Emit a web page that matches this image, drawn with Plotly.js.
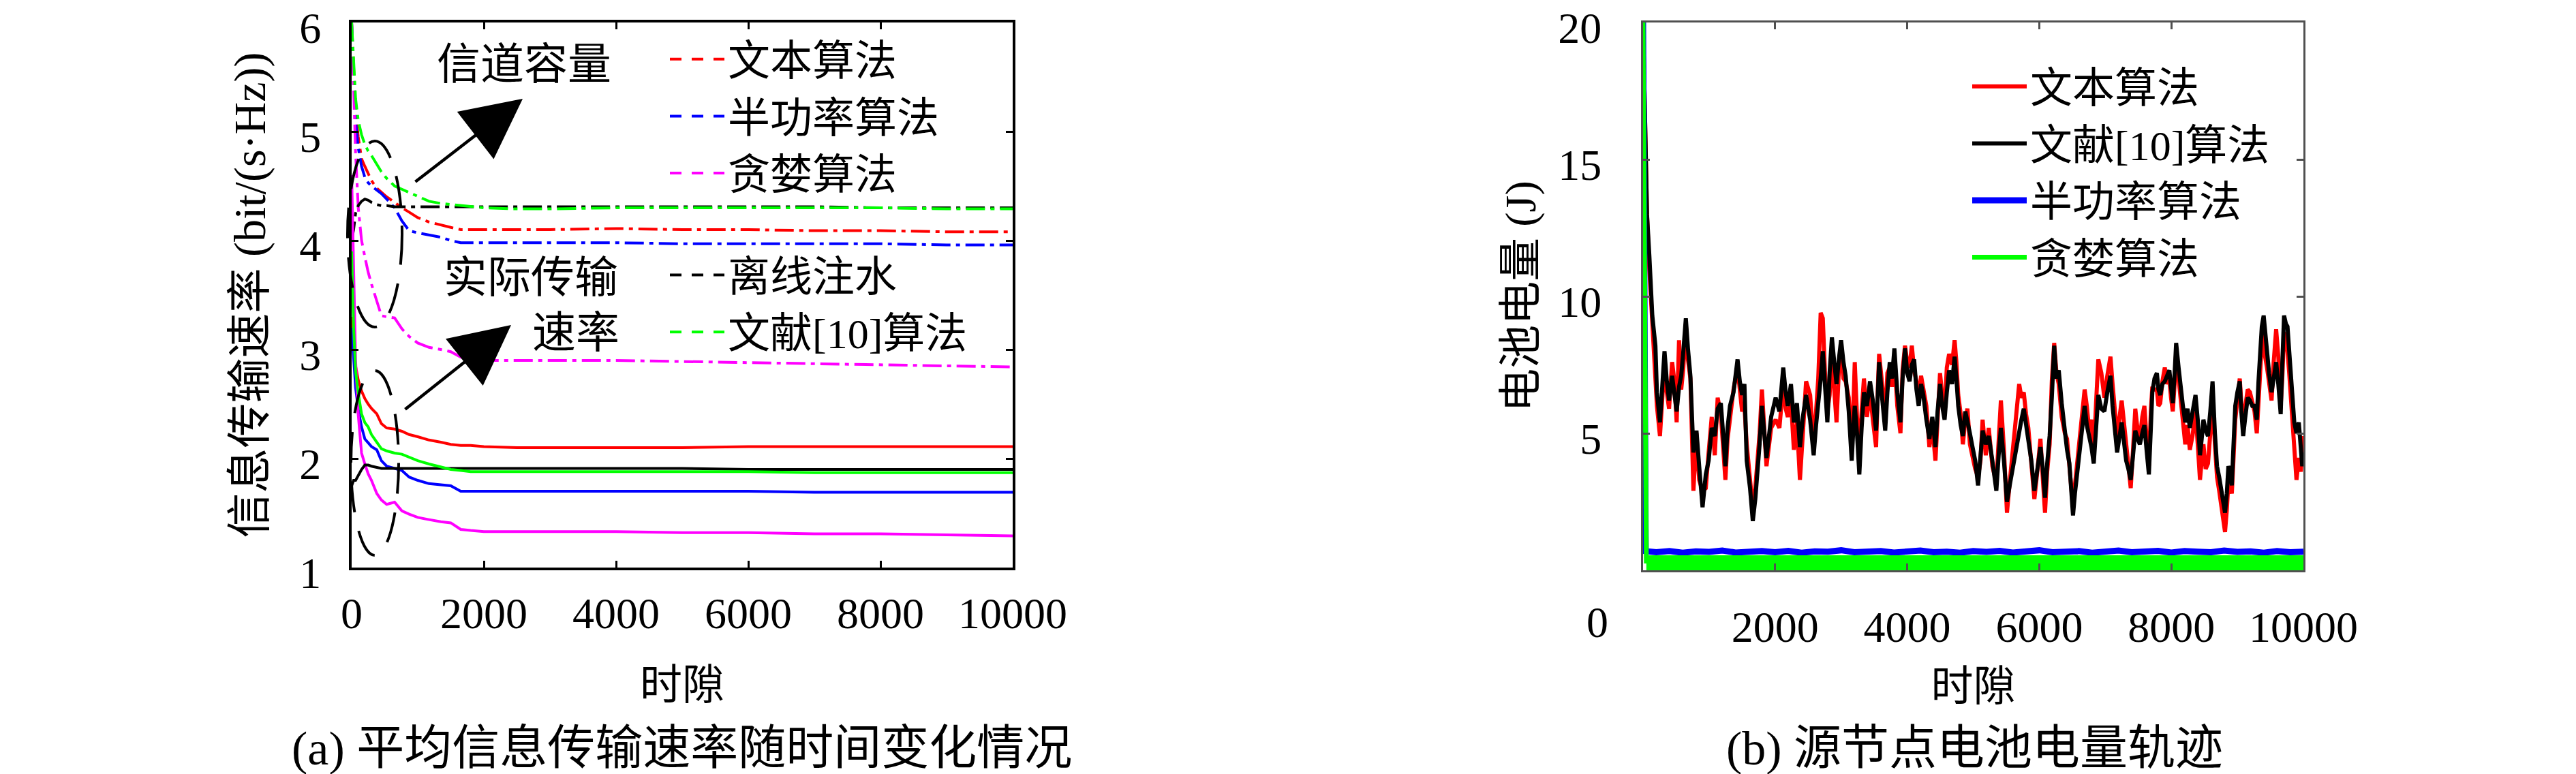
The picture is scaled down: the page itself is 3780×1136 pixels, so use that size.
<!DOCTYPE html>
<html><head><meta charset="utf-8">
<script src="https://cdn.plot.ly/plotly-3.0.1.min.js"></script>
<style>html,body{margin:0;padding:0;background:#fff}#chart{width:3780px;height:1136px}</style>
</head><body><div id="chart"></div>
<script>
// ---------------- (a) average information transmission rate ----------------
const slotsRate = [0,30,60,100,150,200,250,300,380,450,530,650,760,870,1000,1170,1350,1500,1650,1800,2000,2500,3000,4000,5000,6000,7000,8000,9000,10000];
// channel capacity (dash-dot)
const capProposed = [6.0,5.6,5.2,4.95,4.75,4.68,4.62,4.55,4.48,4.44,4.40,4.35,4.30,4.26,4.21,4.17,4.14,4.12,4.10,4.10,4.10,4.10,4.10,4.11,4.10,4.10,4.09,4.09,4.08,4.08];
const capHalf     = [6.0,5.5,5.1,4.85,4.68,4.58,4.53,4.50,4.46,4.43,4.38,4.30,4.18,4.09,4.07,4.05,4.03,4.00,3.98,3.98,3.98,3.98,3.98,3.98,3.97,3.97,3.97,3.97,3.96,3.96];
const capGreedy   = [6.0,5.4,4.8,4.3,4.0,3.85,3.71,3.60,3.44,3.31,3.30,3.29,3.19,3.12,3.06,3.02,3.00,2.98,2.93,2.91,2.90,2.90,2.90,2.90,2.89,2.88,2.87,2.86,2.85,2.84];
const capOffline  = [4.0,4.1,4.25,4.32,4.36,4.38,4.37,4.35,4.33,4.32,4.32,4.31,4.31,4.31,4.31,4.31,4.31,4.31,4.31,4.31,4.31,4.31,4.31,4.31,4.31,4.31,4.31,4.30,4.30,4.30];
const capRef10    = [6.0,5.6,5.3,5.1,4.97,4.88,4.82,4.78,4.70,4.63,4.57,4.50,4.47,4.44,4.40,4.36,4.34,4.33,4.32,4.31,4.30,4.29,4.29,4.30,4.30,4.30,4.30,4.30,4.29,4.29];
// actual transmission rate (solid)
const rateProposed = [3.3,3.0,2.85,2.72,2.62,2.55,2.50,2.46,2.41,2.32,2.28,2.27,2.25,2.22,2.20,2.17,2.15,2.13,2.12,2.12,2.11,2.10,2.10,2.10,2.10,2.11,2.11,2.11,2.11,2.11];
const rateHalf     = [3.2,2.9,2.65,2.45,2.29,2.18,2.14,2.11,2.08,1.98,1.93,1.91,1.89,1.83,1.80,1.77,1.76,1.75,1.70,1.70,1.70,1.70,1.70,1.70,1.70,1.70,1.69,1.69,1.69,1.69];
const rateGreedy   = [4.6,3.6,2.9,2.4,2.05,1.95,1.86,1.80,1.68,1.62,1.58,1.60,1.52,1.49,1.46,1.44,1.42,1.41,1.35,1.34,1.33,1.33,1.33,1.33,1.32,1.32,1.31,1.31,1.30,1.29];
const rateOffline  = [1.75,1.80,1.80,1.85,1.90,1.94,1.94,1.93,1.92,1.91,1.91,1.91,1.91,1.91,1.91,1.91,1.91,1.91,1.91,1.91,1.91,1.91,1.91,1.91,1.91,1.90,1.90,1.90,1.90,1.90];
const rateRef10    = [3.9,3.2,2.8,2.6,2.41,2.33,2.29,2.22,2.15,2.09,2.07,2.05,2.04,2.01,1.98,1.95,1.92,1.90,1.89,1.88,1.88,1.88,1.88,1.88,1.88,1.88,1.87,1.87,1.87,1.87];
const namesA = ['文本算法','半功率算法','贪婪算法','离线注水','文献[10]算法'];
const rateTickVals = [1,2,3,4,5,6];
const rateTickText = ['1','2','3','4','5','6'];
const slotTickVals = [0,2000,4000,6000,8000,10000];
const slotTickText = ['0','2000','4000','6000','8000','10000'];

// ---------------- (b) source node battery energy ----------------
const slotsBattery = [
0,30,60,95,140,187,210,256,290,325,
360,394,440,475,509,545,578,610,648,680,
717,763,809,850,901,950,993,1040,1086,1130,
1178,1215,1247,1280,1316,1370,1431,1465,1500,1535,
1570,1620,1662,1700,1731,1765,1800,1835,1869,1940,
2008,2065,2123,2160,2192,2240,2284,2330,2376,2420,
2469,2530,2584,2620,2653,2690,2722,2755,2791,2825,
2860,2895,2930,2965,2999,3035,3068,3115,3160,3185,
3206,3240,3275,3310,3345,3390,3437,3480,3529,3555,
3575,3620,3667,3700,3736,3770,3806,3850,3898,3930,
3967,4000,4036,4070,4105,4140,4174,4210,4244,4290,
4336,4380,4428,4460,4497,4530,4566,4600,4635,4680,
4718,4745,4773,4810,4843,4880,4912,4950,4981,5030,
5073,5110,5142,5190,5235,5290,5350,5385,5419,5465,
5511,5560,5603,5650,5696,5730,5765,5800,5834,5880,
5926,5970,6018,6050,6087,6120,6157,6190,6226,6260,
6295,6340,6387,6420,6456,6480,6511,6540,6571,6630,
6687,6720,6756,6790,6825,6860,6894,6940,6986,7030,
7078,7110,7179,7248,7280,7316,7350,7385,7420,7454,
7490,7523,7560,7592,7625,7660,7690,7712,7745,7781,
7805,7832,7865,7901,7935,7970,7995,8022,8050,8073,
8110,8142,8175,8211,8245,8280,8320,8366,8400,8434,
8460,8486,8520,8555,8590,8624,8660,8692,8725,8761,
8790,8813,8840,8864,8890,8916,8940,8968,9000,9036,
9060,9088,9120,9157,9190,9226,9260,9294,9320,9346,
9370,9398,9420,9449,9480,9518,9550,9587,9620,9656,
9680,9707,9735,9759,9785,9810,9835,9862,9895,9930,
9960,9982,10000];
const batteryProposed = [
20,15.5,13,11,9.0,7.5,6.0,4.9,6.2,7.6,
6.5,5.9,7.6,6.9,5.4,8.4,6.6,7.4,9.0,7.7,
7.0,2.9,5.0,3.3,2.9,3.0,4.3,5.6,4.2,6.3,
5.7,4.6,3.3,4.8,5.5,6.6,7.4,6.5,5.8,6.0,
4.6,3.3,2.3,3.0,3.8,5.0,6.6,4.8,3.8,5.2,
5.5,5.2,6.8,5.9,5.6,6.2,4.4,5.4,3.3,5.0,
6.9,6.4,4.6,5.8,7.0,9.4,9.2,7.2,5.8,6.4,
8.0,6.6,5.4,7.3,7.9,7.0,6.9,6.3,4.6,6.0,
7.6,5.6,4.2,5.8,7.0,5.6,6.5,5.5,4.5,6.6,
7.9,6.8,5.6,7.2,7.4,6.7,7.8,6.0,5.0,7.3,
8.2,7.6,7.4,8.2,7.3,6.9,6.2,7.1,6.6,6.0,
4.5,5.3,4.0,5.6,7.2,6.4,5.8,7.4,7.9,7.5,
8.4,7.6,6.4,5.7,4.6,5.5,5.9,4.6,4.2,3.7,
3.4,4.0,5.5,4.2,5.2,3.8,3.2,4.6,6.2,4.4,
2.1,3.4,4.4,5.7,6.8,6.3,6.5,5.7,5.2,3.9,
2.6,3.6,4.8,3.5,2.1,3.6,4.6,6.9,8.3,7.2,
6.8,5.6,5.0,4.8,3.7,3.3,2.3,3.1,3.9,5.4,
6.6,6.0,5.1,5.5,4.2,6.1,7.7,7.2,6.3,7.1,
7.8,6.8,4.9,6.2,5.4,4.6,3.6,3.0,4.4,5.9,
5.1,4.8,5.6,6.0,4.8,3.8,5.8,6.7,6.6,6.6,
6.0,6.1,6.9,7.4,6.8,7.0,6.3,5.8,6.8,8.0,
7.0,6.2,5.6,4.6,5.3,4.4,4.9,5.8,4.6,3.3,
4.0,4.6,3.7,3.9,5.0,6.4,4.6,3.4,2.9,2.3,
1.8,1.4,2.2,3.2,3.2,2.8,4.0,5.5,6.2,7.0,
6.1,5.4,6.0,6.6,6.5,6.2,5.8,5.0,6.4,7.8,
8.3,8.6,7.8,7.4,6.8,6.2,7.6,8.8,7.8,6.0,
7.0,8.7,8.2,8.0,7.2,6.3,5.4,4.9,3.3,4.1,
3.6,4.4,4.9];
const batteryRef10 = [
20,15.5,13,11.5,9.3,8.2,6.5,5.4,6.6,8.0,
6.9,6.2,7.1,6.3,5.8,6.7,7.1,8.0,9.2,8.1,
7.1,4.3,5.1,3.8,2.3,3.5,4.0,5.2,4.9,5.9,
6.1,4.9,3.8,5.2,6.0,6.5,7.7,6.9,6.4,6.8,
4.0,3.0,1.8,2.6,3.5,4.6,6.0,5.0,4.1,5.6,
6.3,5.8,7.4,6.5,6.0,6.8,5.4,6.1,4.5,5.6,
6.4,5.5,4.2,5.3,6.0,7.0,8.0,6.8,5.4,7.2,
8.5,7.6,6.8,7.7,8.4,7.6,7.1,5.8,4.0,5.2,
6.0,5.0,3.5,5.2,6.5,6.0,6.9,6.2,5.1,6.4,
7.6,6.3,5.1,6.5,7.6,7.0,8.1,6.5,5.4,7.0,
8.1,7.2,6.9,7.5,7.7,6.6,6.0,6.8,6.4,5.5,
4.8,5.6,4.5,5.8,6.8,6.0,5.5,6.5,7.3,6.8,
7.8,7.0,6.0,5.3,4.9,5.8,5.5,5.0,4.6,4.0,
3.1,4.3,5.1,4.6,4.9,4.0,2.9,4.2,5.2,4.0,
2.5,3.2,3.8,4.6,5.1,5.5,5.9,5.3,4.9,4.0,
2.9,3.8,4.5,3.8,2.65,3.9,4.9,6.3,8.2,7.0,
7.3,6.1,4.9,4.4,3.9,3.0,2.0,2.8,3.5,4.8,
6.0,5.3,4.9,4.5,3.9,5.2,6.4,5.9,5.8,6.5,
7.1,6.0,4.3,5.4,4.8,4.0,3.7,3.3,4.2,5.1,
4.8,4.6,5.0,5.3,4.4,3.5,5.2,6.5,7.0,7.2,
6.6,6.4,6.8,6.9,7.1,7.3,6.7,6.1,7.2,8.3,
7.4,6.6,6.0,5.4,5.9,5.2,5.7,6.4,5.5,4.2,
4.8,5.5,5.1,4.9,5.8,6.9,5.0,3.8,3.4,2.9,
2.4,2.1,2.8,3.8,3.6,3.1,4.5,6.0,6.5,6.9,
5.8,4.9,5.6,6.3,6.2,6.0,6.0,5.5,6.9,8.4,
8.9,9.3,8.6,8.0,7.2,6.5,7.0,7.6,6.8,5.7,
7.5,9.3,9.0,8.9,8.0,7.1,6.2,5.4,5.0,5.4,
4.5,3.8,4.3];
const slotsHalfBattery = [0,40,200,400,600,800,1000,1200,1400,1600,1800,2000,2200,2400,2600,2800,3000,3200,3400,3600,3800,4000,4200,4400,4600,4800,5000,5200,5400,5600,5800,6000,6200,6400,6600,6800,7000,7200,7400,7600,7800,8000,8200,8400,8600,8800,9000,9200,9400,9600,9800,10000];
const batteryHalf = [20,0.70,
0.66,0.70,0.64,0.69,0.67,0.72,0.65,0.68,0.70,0.66,
0.71,0.64,0.69,0.68,0.73,0.66,0.67,0.70,0.65,0.69,
0.72,0.66,0.68,0.64,0.70,0.67,0.71,0.65,0.69,0.73,
0.66,0.68,0.70,0.64,0.69,0.72,0.66,0.67,0.71,0.65,
0.70,0.68,0.66,0.72,0.67,0.69,0.64,0.70,0.66,0.68];
const slotsGreedyBattery = [0,50,2000,4000,6000,8000,10000];
const batteryGreedy = [20,0.25,0.25,0.25,0.25,0.25,0.25];
const namesB = ['文本算法','文献[10]算法','半功率算法','贪婪算法'];
const energyTickVals = [5,10,15,20];
const energyTickText = ['5','10','15','20'];
const slotTickValsB = [2000,4000,6000,8000,10000];
const slotTickTextB = ['2000','4000','6000','8000','10000'];

// ---------------- rendering ----------------
const W = 3780, H = 1136;
const px = v => v / W, py = v => 1 - v / H;
const FONT = '"Liberation Serif", "Noto Sans CJK SC", serif';
const RED = '#ff0000', BLUE = '#0000ff', MAG = '#ff00ff', BLK = '#000000', GRN = '#00ff00';
const capDash = '28px,8px,6px,8px';
const legDash = '17px,15px';

const traces = [];
[[capProposed,RED],[capHalf,BLUE],[capGreedy,MAG],[capOffline,BLK],[capRef10,GRN]].forEach(([ys,c]) => {
  traces.push({x: slotsRate, y: ys, type:'scatter', mode:'lines', xaxis:'x', yaxis:'y', showlegend:false,
    line:{color:c, width:4, dash:capDash}, hoverinfo:'skip'});
});
[[rateProposed,RED],[rateHalf,BLUE],[rateGreedy,MAG],[rateOffline,BLK],[rateRef10,GRN]].forEach(([ys,c]) => {
  traces.push({x: slotsRate, y: ys, type:'scatter', mode:'lines', xaxis:'x', yaxis:'y', showlegend:false,
    line:{color:c, width:4}, hoverinfo:'skip'});
});
const legColorsA = [RED, BLUE, MAG, BLK, GRN];
namesA.forEach((n,i) => {
  traces.push({x:[null], y:[null], type:'scatter', mode:'lines', xaxis:'x', yaxis:'y', name:n,
    legend:'legend', legendgroup: i < 3 ? 'g1' : 'g2', line:{color:legColorsA[i], width:4, dash:legDash}});
});
traces.push({x: slotsBattery, y: batteryProposed, type:'scatter', mode:'lines', xaxis:'x2', yaxis:'y2',
  name:namesB[0], legend:'legend2', line:{color:RED, width:6}});
traces.push({x: slotsBattery, y: batteryRef10, type:'scatter', mode:'lines', xaxis:'x2', yaxis:'y2',
  name:namesB[1], legend:'legend2', line:{color:BLK, width:6}});
traces.push({x: slotsHalfBattery, y: batteryHalf, type:'scatter', mode:'lines', xaxis:'x2', yaxis:'y2',
  name:namesB[2], legend:'legend2', line:{color:BLUE, width:9}});
traces.push({x: slotsGreedyBattery.slice(0,2), y: batteryGreedy.slice(0,2), type:'scatter', mode:'lines', xaxis:'x2', yaxis:'y2',
  name:namesB[3], legend:'legend2', line:{color:GRN, width:7}});
traces.push({x: slotsGreedyBattery.slice(1), y: batteryGreedy.slice(1), type:'scatter', mode:'lines', xaxis:'x2', yaxis:'y2',
  showlegend:false, line:{color:GRN, width:24}});

const axisBase = (color, lw) => ({
  showline:true, mirror:'ticks', linecolor:color, linewidth:lw, ticks:'inside', ticklen:10, tickwidth:3,
  tickcolor:color, showgrid:false, zeroline:false, tickfont:{family:FONT, size:64, color:'#000'},
  tickmode:'array', fixedrange:true, ticklabeloverflow:'allow'
});

const ann = (text, x, y, size, extra) => Object.assign({text, x:px(x), y:py(y), xref:'paper', yref:'paper',
  xanchor:'center', yanchor:'middle', showarrow:false, font:{family:FONT, size, color:'#000'}}, extra || {});

const layout = {
  width: W, height: H, margin:{l:0,r:0,t:0,b:0}, paper_bgcolor:'#fff', plot_bgcolor:'#fff',
  font:{family:FONT, color:'#000'},
  xaxis: Object.assign(axisBase('#000',4), {domain:[px(516), px(1486)], range:[0,10000], anchor:'y',
    tickvals: slotTickVals, ticktext: slotTickText, ticklabelstandoff: 8,
    title:{text:'时隙', font:{family:FONT, size:62}, standoff:50}}),
  yaxis: Object.assign(axisBase('#000',4), {domain:[py(833), py(33)], range:[1,6], anchor:'x',
    tickvals: rateTickVals, ticktext: rateTickText, ticklabelstandoff: 28, ticklabelshift: 8,
    title:{text:'信息传输速率 (bit/(s·Hz))', font:{family:FONT, size:66}, standoff:29}}),
  xaxis2: Object.assign(axisBase('#505050',3), {domain:[px(2411), px(3380)], range:[0,10000], anchor:'y2',
    tickvals: slotTickValsB, ticktext: slotTickTextB, ticklabelstandoff: 25,
    title:{text:'时隙', font:{family:FONT, size:62}, standoff:31}}),
  yaxis2: Object.assign(axisBase('#505050',3), {domain:[py(837), py(33)], range:[0,20], anchor:'x2',
    tickvals: energyTickVals, ticktext: energyTickText, ticklabelstandoff: 45, ticklabelshift: 8,
    title:{text:'电池电量 (J)', font:{family:FONT, size:64}, standoff:12}}),
  legend: {x: px(978), y: py(40), xanchor:'left', yanchor:'top', bgcolor:'rgba(0,0,0,0)', borderwidth:0,
    font:{family:FONT, size:62, color:'#000'}, traceorder:'grouped', tracegroupgap:66, itemwidth:80},
  legend2: {x: px(2889), y: py(80), xanchor:'left', yanchor:'top', bgcolor:'rgba(0,0,0,0)', borderwidth:0,
    font:{family:FONT, size:62, color:'#000'}, traceorder:'normal', itemwidth:80},
  shapes: [
    {type:'circle', xref:'paper', yref:'paper', x0:px(510), x1:px(590), y0:py(480), y1:py(207),
      line:{color:'#000', width:4, dash:'45px,28px'}},
    {type:'circle', xref:'paper', yref:'paper', x0:px(515), x1:px(585), y0:py(815), y1:py(544),
      line:{color:'#000', width:4, dash:'45px,28px'}}
  ],
  annotations: [
    ann('信道容量', 769, 94, 64),
    ann('实际传输', 779, 408, 64),
    ann('速率', 845, 488, 64),
    {text:'', x:px(767), y:py(145), xref:'paper', yref:'paper', showarrow:true, ax:-159, ay:123,
      arrowhead:2, arrowsize:3.9, arrowwidth:4.5, arrowcolor:'#000', standoff:0},
    {text:'', x:px(750), y:py(477), xref:'paper', yref:'paper', showarrow:true, ax:-157, ay:125,
      arrowhead:2, arrowsize:3.9, arrowwidth:4.5, arrowcolor:'#000', standoff:0},
    ann('(a) 平均信息传输速率随时间变化情况', 1000, 1098, 70),
    ann('(b) 源节点电池电量轨迹', 2897, 1098, 70),
    ann('0', 2344, 913, 64)
  ]
};

Plotly.newPlot('chart', traces, layout, {displayModeBar:false, staticPlot:true});
</script>
</body></html>
